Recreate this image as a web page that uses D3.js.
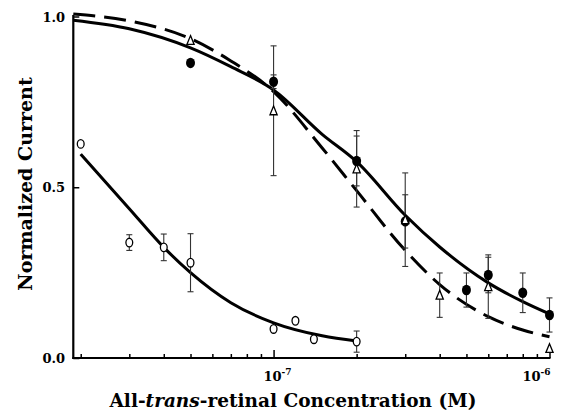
<!DOCTYPE html>
<html>
<head>
<meta charset="utf-8">
<script src="https://cdn.jsdelivr.net/npm/d3@7"></script>
<style>
  body { margin: 0; background: #fff; }
  svg text { font-family: "DejaVu Serif", "Liberation Serif", serif; font-weight: bold; fill: #000; }
</style>
</head>
<body>
<svg id="chart" width="566" height="412"></svg>
<script>
// measured points (M, normalized current)
var filledConc = [5e-8, 1e-7, 2e-7, 3e-7, 5e-7, 6e-7, 8e-7, 1e-6];
var filledVal  = [0.864, 0.809, 0.577, 0.40, 0.199, 0.243, 0.191, 0.126];
var filledErr  = [0, 0.02, 0.073, 0.078, 0.05, 0.052, 0.058, 0.05];

var triConc = [5e-8, 1e-7, 2e-7, 3e-7, 4e-7, 6e-7, 1e-6];
var triVal  = [0.93, 0.724, 0.554, 0.405, 0.184, 0.209, 0.028];
var triErr  = [0, 0.19, 0.112, 0.137, 0.065, 0.093, 0];

var openConc = [2e-8, 3e-8, 4e-8, 5e-8, 1e-7, 1.2e-7, 1.4e-7, 2e-7];
var openVal  = [0.627, 0.338, 0.324, 0.279, 0.085, 0.109, 0.055, 0.048];
var openErr  = [0, 0.023, 0.039, 0.085, 0, 0, 0, 0.031];

// fitted curves
var fitConc     = [1.88e-8, 3e-8, 5e-8, 7e-8, 1e-7, 1.5e-7, 2e-7, 3e-7, 4e-7, 6e-7, 8e-7, 1e-6];
var solidFitVal = [0.989, 0.964, 0.908, 0.853, 0.785, 0.655, 0.575, 0.418, 0.325, 0.22, 0.165, 0.129];
var dashFitVal  = [1.007, 0.987, 0.935, 0.87, 0.78, 0.615, 0.49, 0.315, 0.215, 0.121, 0.082, 0.062];
var openFitConc = [2e-8, 3e-8, 4e-8, 5e-8, 7e-8, 1e-7, 1.5e-7, 2e-7];
var openFitVal  = [0.597, 0.437, 0.324, 0.25, 0.162, 0.103, 0.065, 0.05];

var yTicks = [0, 0.5, 1.0];
var yTickLabels = ["0.0", "0.5", "1.0"];
var xMajor = [1e-7, 1e-6];
var xMajorExp = ["-7", "-6"];
var xMinor = [2e-8, 3e-8, 4e-8, 5e-8, 6e-8, 7e-8, 8e-8, 9e-8,
              2e-7, 3e-7, 4e-7, 5e-7, 6e-7, 7e-7, 8e-7, 9e-7];

var svg = d3.select("#chart");

var x = d3.scaleLog().domain([1.88e-8, 1e-6]).range([73.3, 549.5]);
var y = d3.scaleLinear().domain([0, 1]).range([358, 16.5]);

// axes
var xAxis = d3.axisBottom(x).tickValues(xMajor).tickSize(-8).tickFormat("");
var gx = svg.append("g").attr("transform", "translate(0," + y(0) + ")").call(xAxis);
gx.append("g").call(d3.axisBottom(x).tickValues(xMinor).tickSize(-4).tickFormat(""));
gx.selectAll("path.domain").remove();
gx.selectAll("line").attr("stroke", "#000").attr("stroke-width", 1.5);
svg.append("line")
   .attr("x1", x.range()[0] - 1).attr("x2", x.range()[1] + 1)
   .attr("y1", y(0)).attr("y2", y(0))
   .attr("stroke", "#000").attr("stroke-width", 2.2);

var gy = svg.append("g").attr("transform", "translate(" + x.range()[0] + ",0)")
            .call(d3.axisLeft(y).tickValues(yTicks).tickSize(-6).tickFormat(""));
gy.selectAll("path.domain").remove();
gy.selectAll("line").attr("stroke", "#000").attr("stroke-width", 1.5);
svg.append("line")
   .attr("x1", x.range()[0]).attr("x2", x.range()[0])
   .attr("y1", y(0) + 1).attr("y2", y(1) - 1.5)
   .attr("stroke", "#000").attr("stroke-width", 2.2);

svg.selectAll("text.ytl").data(yTicks).enter().append("text")
   .attr("class", "ytl")
   .attr("x", 65).attr("y", function (d) { return y(d) + 5; })
   .attr("text-anchor", "end").style("font-size", "13px")
   .text(function (d, i) { return yTickLabels[i]; });

xMajor.forEach(function (v, i) {
  var last = i == xMajor.length - 1;
  var t = svg.append("text")
     .attr("x", last ? x(v) + 1 : x(v) + 4).attr("y", 381)
     .attr("text-anchor", last ? "end" : "middle")
     .style("font-size", "13px");
  t.append("tspan").text("10");
  t.append("tspan").attr("dy", -6).style("font-size", "9px").text(xMajorExp[i]);
});

// axis titles
var xt = svg.append("text").attr("x", 293).attr("y", 407)
            .attr("text-anchor", "middle").style("font-size", "18.5px");
xt.append("tspan").text("All-");
xt.append("tspan").style("font-style", "italic").text("trans");
xt.append("tspan").text("-retinal Concentration (M)");

svg.append("text")
   .attr("transform", "translate(32,184) rotate(-90)")
   .attr("text-anchor", "middle").style("font-size", "19px")
   .text("Normalized Current");

// fit lines
var line = d3.line().curve(d3.curveMonotoneX)
             .x(function (d) { return x(d[0]); })
             .y(function (d) { return y(d[1]); });

svg.append("path").datum(d3.zip(fitConc, dashFitVal))
   .attr("d", line).attr("fill", "none").attr("stroke", "#000")
   .attr("stroke-width", 3).attr("stroke-dasharray", "22,9");
svg.append("path").datum(d3.zip(fitConc, solidFitVal))
   .attr("d", line).attr("fill", "none").attr("stroke", "#000").attr("stroke-width", 3);
svg.append("path").datum(d3.zip(openFitConc, openFitVal))
   .attr("d", line).attr("fill", "none").attr("stroke", "#000").attr("stroke-width", 3);

// error bars
function drawErrors(conc, val, err) {
  var rows = d3.zip(conc, val, err).filter(function (d) { return d[2] > 0; });
  var g = svg.append("g").attr("stroke", "#333").attr("stroke-width", 1.1);
  rows.forEach(function (d) {
    var cx = x(d[0]), top = y(d[1] + d[2]), bot = y(d[1] - d[2]);
    g.append("line").attr("x1", cx).attr("x2", cx).attr("y1", top).attr("y2", bot);
    g.append("line").attr("x1", cx - 3).attr("x2", cx + 3).attr("y1", top).attr("y2", top);
    g.append("line").attr("x1", cx - 3).attr("x2", cx + 3).attr("y1", bot).attr("y2", bot);
  });
}
drawErrors(filledConc, filledVal, filledErr);
drawErrors(triConc, triVal, triErr);
drawErrors(openConc, openVal, openErr);

// markers
svg.selectAll("ellipse.filled").data(d3.zip(filledConc, filledVal)).enter()
   .append("ellipse").attr("class", "filled")
   .attr("cx", function (d) { return x(d[0]); })
   .attr("cy", function (d) { return y(d[1]); })
   .attr("rx", 4.5).attr("ry", 5.2).attr("fill", "#000");

svg.selectAll("path.tri").data(d3.zip(triConc, triVal)).enter()
   .append("path").attr("class", "tri")
   .attr("transform", function (d) { return "translate(" + x(d[0]) + "," + y(d[1]) + ")"; })
   .attr("d", "M0,-4.8L3.6,4L-3.6,4Z")
   .attr("fill", "#fff").attr("stroke", "#000").attr("stroke-width", 1.3);

svg.selectAll("ellipse.open").data(d3.zip(openConc, openVal)).enter()
   .append("ellipse").attr("class", "open")
   .attr("cx", function (d) { return x(d[0]); })
   .attr("cy", function (d) { return y(d[1]); })
   .attr("rx", 3.4).attr("ry", 4.3)
   .attr("fill", "#fff").attr("stroke", "#000").attr("stroke-width", 1.3);
</script>
</body>
</html>
